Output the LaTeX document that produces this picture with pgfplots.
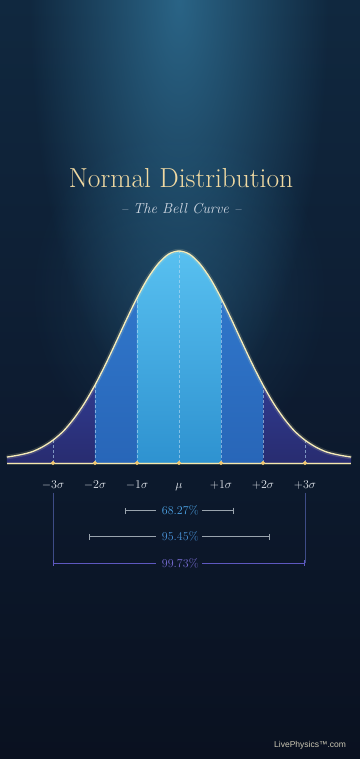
\documentclass[border=0pt]{standalone}
\usepackage{fontspec}
\usepackage{pgfplots}
\usepackage{pgfplotstable}
\pgfplotsset{compat=1.18}
\usetikzlibrary{fadings,arrows.meta}
\tikzfading[name=glowfade, inner color=transparent!0, outer color=transparent!100]
\newfontfamily\footfont{Liberation Sans}
\definecolor{bgtop}{HTML}{10283F}
\definecolor{bgmid}{HTML}{0D1C31}
\definecolor{bgbot}{HTML}{0A1120}
\definecolor{glow}{HTML}{2A6486}
\definecolor{cream}{HTML}{F6ECB8}
\definecolor{gold}{HTML}{F2C870}
\definecolor{titlecol}{HTML}{F0D9A2}
\definecolor{subcol}{HTML}{D2DAE4}
\definecolor{labcol}{HTML}{E6EAF0}
\definecolor{ctop}{HTML}{58C0F0}
\definecolor{cbot}{HTML}{2E92D0}
\definecolor{mtop}{HTML}{3076CA}
\definecolor{mbot}{HTML}{2866B8}
\definecolor{otop}{HTML}{303A8E}
\definecolor{obot}{HTML}{282C70}
\definecolor{pctA}{HTML}{4CA2E4}
\definecolor{pctB}{HTML}{4A94DA}
\definecolor{pctC}{HTML}{776CD4}
\definecolor{brk}{HTML}{9AA4AE}
\definecolor{brkC}{HTML}{5E58C0}
\definecolor{vline}{HTML}{3E4C86}
\definecolor{dashcol}{HTML}{B8DCF4}
\definecolor{footcol}{HTML}{CCC8B4}

\pgfplotstableread{
x y
-4.1 0.028
-4.0 0.031
-3.75 0.040
-3.5 0.053
-3.25 0.076
-3.0 0.108
-2.75 0.151
-2.5 0.210
-2.25 0.282
-2.0 0.368
-1.75 0.465
-1.5 0.570
-1.25 0.677
-1.0 0.779
-0.75 0.869
-0.5 0.939
-0.25 0.985
0 1.0
0.25 0.985
0.5 0.939
0.75 0.869
1.0 0.779
1.25 0.677
1.5 0.570
1.75 0.465
2.0 0.368
2.25 0.282
2.5 0.210
2.75 0.151
3.0 0.108
3.25 0.076
3.5 0.053
3.75 0.040
4.0 0.031
4.1 0.028
}\bell

\begin{document}
\begin{tikzpicture}
\begin{axis}[
  scale only axis, width=360pt, height=759pt,
  xmin=-4.2619, xmax=4.3095, ymin=-1.3962, ymax=2.1840,
  hide axis, clip=false,
]
% background
\shade[top color=bgtop, bottom color=bgbot, middle color=bgmid]
  (rel axis cs:0,0) rectangle (rel axis cs:1,1);
\begin{scope}
\clip (rel axis cs:0,0) rectangle (rel axis cs:1,1);
\fill[glow, path fading=glowfade] (axis cs:0,2.18) ellipse [x radius=150pt, y radius=420pt];
\fill[glow, opacity=0.35, path fading=glowfade] (axis cs:0,0.8) ellipse [x radius=150pt, y radius=170pt];
\end{scope}

% filled regions
\addplot[draw=none, top color=otop, bottom color=obot, restrict x to domain=-4.1:-2] table {\bell} \closedcycle;
\addplot[draw=none, top color=otop, bottom color=obot, restrict x to domain=2:4.1] table {\bell} \closedcycle;
\addplot[draw=none, top color=mtop, bottom color=mbot, restrict x to domain=-2:-1] table {\bell} \closedcycle;
\addplot[draw=none, top color=mtop, bottom color=mbot, restrict x to domain=1:2] table {\bell} \closedcycle;
\addplot[draw=none, top color=ctop, bottom color=cbot, restrict x to domain=-1:1] table {\bell} \closedcycle;

% dashed sigma lines
\addplot[dashcol, opacity=0.6, densely dashed, line width=0.5pt] coordinates {(-3,0) (-3,0.108)};
\addplot[dashcol, opacity=0.6, densely dashed, line width=0.5pt] coordinates {(-2,0) (-2,0.368)};
\addplot[dashcol, opacity=0.6, densely dashed, line width=0.5pt] coordinates {(-1,0) (-1,0.779)};
\addplot[dashcol, opacity=0.6, densely dashed, line width=0.5pt] coordinates {(0,0) (0,1.0)};
\addplot[dashcol, opacity=0.6, densely dashed, line width=0.5pt] coordinates {(1,0) (1,0.779)};
\addplot[dashcol, opacity=0.6, densely dashed, line width=0.5pt] coordinates {(2,0) (2,0.368)};
\addplot[dashcol, opacity=0.6, densely dashed, line width=0.5pt] coordinates {(3,0) (3,0.108)};

% curve with glow
\addplot[cream, opacity=0.15, line width=4.5pt, smooth] table {\bell};
\addplot[cream, line width=1.3pt, smooth] table {\bell};

% baseline
\addplot[cream, opacity=0.2, line width=3pt] coordinates {(-4.1,0) (4.1,0)};
\addplot[cream!85!gold, line width=1pt] coordinates {(-4.1,0) (4.1,0)};
\addplot[only marks, mark=*, mark size=1.9pt, gold] coordinates {(-3,0) (-2,0) (-1,0) (0,0) (1,0) (2,0) (3,0)};

% labels
\node[text=labcol, font=\fontsize{12.5}{14}\selectfont, anchor=base] at (axis cs:-3,-0.118) {$-3\sigma$};
\node[text=labcol, font=\fontsize{12.5}{14}\selectfont, anchor=base] at (axis cs:-2,-0.118) {$-2\sigma$};
\node[text=labcol, font=\fontsize{12.5}{14}\selectfont, anchor=base] at (axis cs:-1,-0.118) {$-1\sigma$};
\node[text=labcol, font=\fontsize{12.5}{14}\selectfont, anchor=base] at (axis cs:0,-0.118) {$\mu$};
\node[text=labcol, font=\fontsize{12.5}{14}\selectfont, anchor=base] at (axis cs:1,-0.118) {$+1\sigma$};
\node[text=labcol, font=\fontsize{12.5}{14}\selectfont, anchor=base] at (axis cs:2,-0.118) {$+2\sigma$};
\node[text=labcol, font=\fontsize{12.5}{14}\selectfont, anchor=base] at (axis cs:3,-0.118) {$+3\sigma$};

% vertical guide lines at +-3 sigma
\addplot[vline, line width=0.6pt] coordinates {(-3,-0.14) (-3,-0.472)};
\addplot[vline, line width=0.6pt] coordinates {(3,-0.14) (3,-0.472)};

% brackets
\addplot[brk, line width=0.6pt, {Bar[width=6pt]}-] coordinates {(-1.286,-0.225) (-0.55,-0.225)};
\addplot[brk, line width=0.6pt, -{Bar[width=6pt]}] coordinates {(0.55,-0.225) (1.31,-0.225)};
\node[text=pctA, font=\fontsize{12}{14}\selectfont] at (axis cs:0.03,-0.225) {68.27\%};

\addplot[brk, line width=0.6pt, {Bar[width=6pt]}-] coordinates {(-2.143,-0.348) (-0.55,-0.348)};
\addplot[brk, line width=0.6pt, -{Bar[width=6pt]}] coordinates {(0.55,-0.348) (2.167,-0.348)};
\node[text=pctB, font=\fontsize{12}{14}\selectfont] at (axis cs:0.03,-0.348) {95.45\%};

\addplot[brkC, line width=0.6pt, {Bar[width=6pt]}-] coordinates {(-3,-0.472) (-0.55,-0.472)};
\addplot[brkC, line width=0.6pt, -{Bar[width=6pt]}] coordinates {(0.55,-0.472) (3,-0.472)};
\node[text=pctC, font=\fontsize{12}{14}\selectfont] at (axis cs:0.03,-0.472) {99.73\%};

% titles
\node[text=titlecol, font=\fontsize{27.5}{32}\selectfont] at (axis cs:0.05,1.344) {Normal Distribution};
\node[text=subcol, font=\fontsize{14.5}{17}\selectfont\itshape] at (axis cs:0.05,1.198) {-- The Bell Curve --};

% footer
\node[text=footcol, font=\footfont\fontsize{8.5}{10}\selectfont, anchor=east] at (axis cs:4.06,-1.330) {LivePhysics™.com};
\end{axis}
\pgfresetboundingbox
\path (current axis.south west) rectangle (current axis.north east);
\end{tikzpicture}
\end{document}
